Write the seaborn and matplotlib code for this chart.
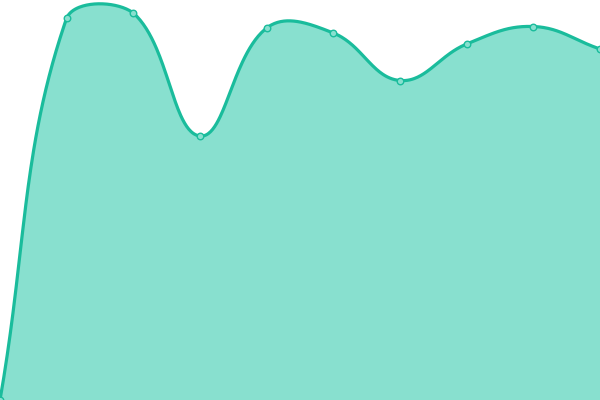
import numpy as np
import pandas as pd
import matplotlib
matplotlib.use("Agg")
import matplotlib.pyplot as plt
import seaborn as sns

# values (chart height = 400 units)
labels = list(range(10))
values = [0, 382, 387, 264, 372, 367, 319.5, 356, 373.5, 351]

LINE = "#1abc9c"
FILL = "#88e0cf"
W, H = 600, 400


def spline_controls(px, py, tension=0.4):
    # Chart.js style spline control points, capped to the chart area
    n = len(px)
    cps = []
    for i in range(n):
        pi = np.array([px[i], py[i]])
        prev = np.array([px[i - 1], py[i - 1]]) if i > 0 else pi
        nxt = np.array([px[i + 1], py[i + 1]]) if i < n - 1 else pi
        d01 = np.hypot(*(pi - prev))
        d12 = np.hypot(*(nxt - pi))
        tot = d01 + d12
        fa = tension * d01 / tot if tot else 0
        fb = tension * d12 / tot if tot else 0
        c_prev = pi - fa * (nxt - prev)
        c_next = pi + fb * (nxt - prev)
        c_prev = np.clip(c_prev, [0, 0], [W, H])
        c_next = np.clip(c_next, [0, 0], [W, H])
        cps.append((c_prev, c_next))
    return cps


def smooth_curve(xs, ys, steps=60):
    px = np.array(xs, float) * W / (len(xs) - 1)
    py = np.array(ys, float)
    cps = spline_controls(px, py)
    t = np.linspace(0, 1, steps)[:, None]
    out = []
    for i in range(len(px) - 1):
        p0 = np.array([px[i], py[i]])
        p3 = np.array([px[i + 1], py[i + 1]])
        p1 = cps[i][1]
        p2 = cps[i + 1][0]
        seg = ((1 - t) ** 3) * p0 + 3 * ((1 - t) ** 2) * t * p1 + 3 * (1 - t) * t ** 2 * p2 + t ** 3 * p3
        out.append(seg if i == 0 else seg[1:])
    curve = np.vstack(out)
    return curve[:, 0] * (len(xs) - 1) / W, curve[:, 1]


df = pd.DataFrame({"x": labels, "y": values})
cx, cy = smooth_curve(labels, values)
curve = pd.DataFrame({"x": cx, "y": cy})

sns.set_style("white")
fig = plt.figure(figsize=(6, 4), dpi=100)
ax = fig.add_axes([0, 0, 1, 1])

ax.fill_between(curve["x"], curve["y"], 0, color=FILL, linewidth=0, zorder=1)
sns.lineplot(data=curve, x="x", y="y", ax=ax, color=LINE, linewidth=2.3,
             sort=False, zorder=2)
sns.scatterplot(data=df, x="x", y="y", ax=ax, s=22, color=FILL,
                edgecolor=LINE, linewidth=1, zorder=3, clip_on=False)

ax.set_xlim(0, len(labels) - 1)
ax.set_ylim(0, 400)
ax.set_axis_off()

fig.savefig("out.png", dpi=100)
